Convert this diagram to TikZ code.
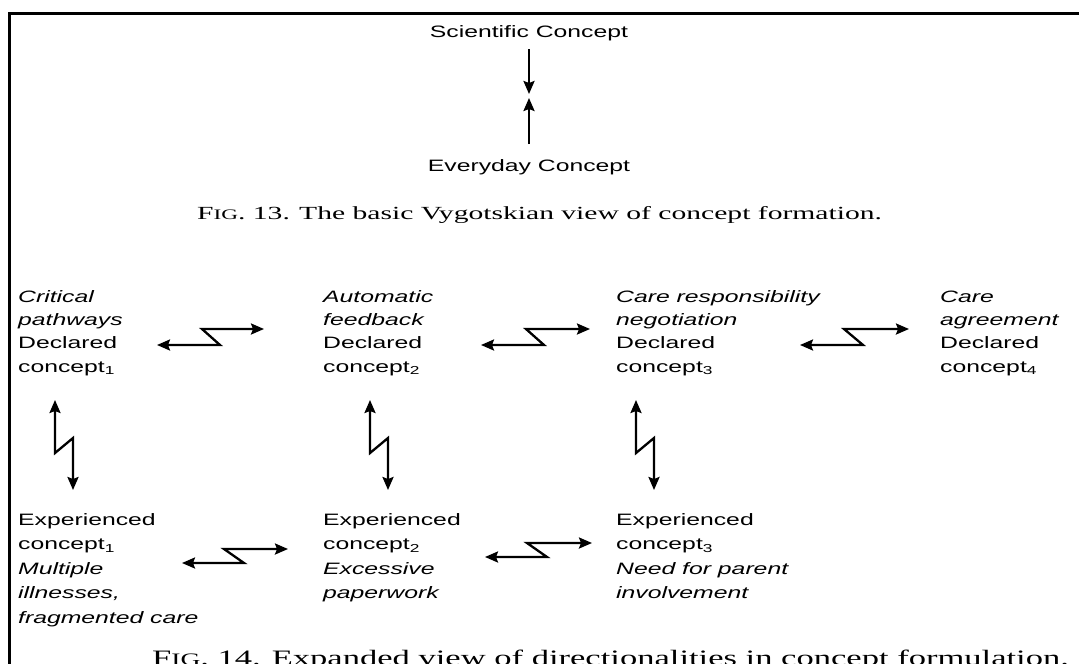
\documentclass[tikz,border=0pt]{standalone}
\usepackage{fontspec}
\usetikzlibrary{arrows.meta}
\newfontfamily\dsans[FakeStretch=1.5]{Liberation Sans}
\newfontfamily\dserif[FakeStretch=1.6]{Liberation Serif}
\newfontfamily\dserifb[FakeStretch=1.57]{Liberation Serif}
\begin{document}
\begin{tikzpicture}[x=1pt,y=-1pt,
  toplbl/.style={font=\dsans\fontsize{16.5}{20}\selectfont, anchor=base, inner sep=0pt},
  rowA/.style={font=\dsans\fontsize{16.5}{23.3}\selectfont, align=left, anchor=base west, inner sep=0pt},
  rowB/.style={font=\dsans\fontsize{16.5}{24.5}\selectfont, align=left, anchor=base west, inner sep=0pt},
  capt/.style={font=\dserif\fontsize{18.5}{20}\selectfont, anchor=base west, inner sep=0pt},
  captb/.style={font=\dserifb\fontsize{22}{24}\selectfont, anchor=base west, inner sep=0pt},
  arr/.style={line width=2.3pt, line join=miter, -{Stealth[length=13pt,width=11pt,inset=2pt]}},
  zz/.style={line width=2.3pt, line join=miter, {Stealth[length=13pt,width=11pt,inset=2pt]}-{Stealth[length=13pt,width=11pt,inset=2pt]}},
  frame/.style={line width=3pt, line cap=rect}]
\clip (0,0) rectangle (1079,664);
\useasboundingbox (0,0) rectangle (1079,664);
% frame
\coordinate (fr1) at (9,664);
\coordinate (fr2) at (9,13.5);
\coordinate (fr3) at (1085,13.5);
\draw[frame] (fr1) -- (fr2) -- (fr3);
% Fig 13
\node[toplbl] (sci) at (529,37) {Scientific Concept};
\node[toplbl] (evd) at (529,171) {Everyday Concept};
\coordinate (t1) at (529,49);
\coordinate (t2) at (529,94);
\coordinate (t3) at (529,144);
\coordinate (t4) at (529,98);
\draw[arr] (t1) -- (t2);
\draw[arr] (t3) -- (t4);
\node[capt] (cap13) at (197,219) {F{\fontsize{14.5}{14.5}\selectfont IG}. 13.\enspace The basic Vygotskian view of concept formation.};
% Fig 14 nodes (anchored at the baseline of their last line)
\node[rowA] (d1) at (18,372) {\textit{Critical}\\\textit{pathways}\\Declared\\concept\textsubscript{1}};
\node[rowA] (d2) at (323,372) {\textit{Automatic}\\\textit{feedback}\\Declared\\concept\textsubscript{2}};
\node[rowA] (d3) at (616,372) {\textit{Care responsibility}\\\textit{negotiation}\\Declared\\concept\textsubscript{3}};
\node[rowA] (d4) at (940,372) {\textit{Care}\\\textit{agreement}\\Declared\\concept\textsubscript{4}};
\node[rowB] (e1) at (18,623) {Experienced\\concept\textsubscript{1}\\\textit{Multiple}\\\textit{illnesses,}\\\textit{fragmented care}};
\node[rowB] (e2) at (323,598.5) {Experienced\\concept\textsubscript{2}\\\textit{Excessive}\\\textit{paperwork}};
\node[rowB] (e3) at (616,598.5) {Experienced\\concept\textsubscript{3}\\\textit{Need for parent}\\\textit{involvement}};
\node[captb] (cap14) at (152,665) {F{\fontsize{17.5}{17.5}\selectfont IG}. 14.\enspace Expanded view of directionalities in concept formulation.};
% horizontal zigzag arrows, row 1
\coordinate (h1a) at (157,345); \coordinate (h1b) at (264,329);
\coordinate (h2a) at (481,345); \coordinate (h2b) at (590,329);
\coordinate (h3a) at (800,345); \coordinate (h3b) at (909,329);
\draw[zz] (h1a) -- ++(63,0) -- ++(-18,-16) -- (h1b);
\draw[zz] (h2a) -- ++(63,0) -- ++(-18,-16) -- (h2b);
\draw[zz] (h3a) -- ++(63,0) -- ++(-19,-16) -- (h3b);
% horizontal zigzag arrows, row 2
\coordinate (g1a) at (182,563); \coordinate (g1b) at (288,549);
\coordinate (g2a) at (485,557); \coordinate (g2b) at (592,543);
\draw[zz] (g1a) -- ++(62,0) -- ++(-20,-14) -- (g1b);
\draw[zz] (g2a) -- ++(62,0) -- ++(-20,-14) -- (g2b);
% vertical zigzag arrows
\coordinate (v1a) at (55,400); \coordinate (v1b) at (73,490);
\coordinate (v2a) at (370,400); \coordinate (v2b) at (388,490);
\coordinate (v3a) at (636,400); \coordinate (v3b) at (654,490);
\draw[zz] (v1a) -- ++(0,53) -- ++(18,-15) -- (v1b);
\draw[zz] (v2a) -- ++(0,53) -- ++(18,-15) -- (v2b);
\draw[zz] (v3a) -- ++(0,53) -- ++(18,-15) -- (v3b);
\end{tikzpicture}
\end{document}
